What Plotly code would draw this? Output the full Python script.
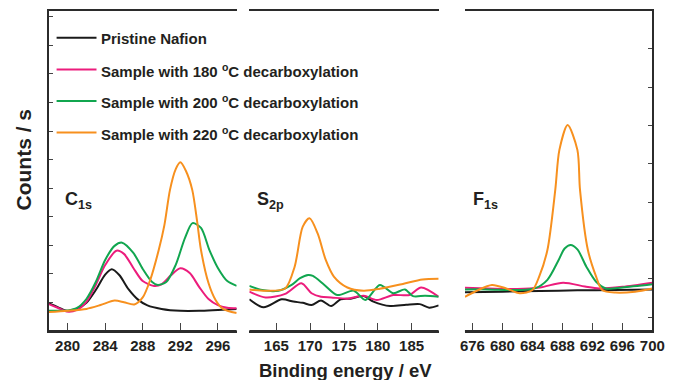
import plotly.graph_objects as go

# ---------------- data ----------------
series_names = [
    "Pristine Nafion",
    "Sample with 180 <sup>o</sup>C decarboxylation",
    "Sample with 200 <sup>o</sup>C decarboxylation",
    "Sample with 220 <sup>o</sup>C decarboxylation",
]
series_colors = ["#1a1a1a", "#ec1c7c", "#11a64f", "#f7901e"]
panel_labels = ["C<sub>1s</sub>", "S<sub>2p</sub>", "F<sub>1s</sub>"]

# C1s panel
c_black_x = [278, 279, 279.9, 281, 282, 283, 284, 284.7, 285.5, 286.5, 287.5, 288.5, 290, 292, 294, 296, 298]
c_black_y = [8.7, 7.4, 6.3, 6.9, 8.8, 12.8, 17.6, 19.3, 17.5, 13.0, 9.8, 8.0, 6.9, 6.3, 6.3, 6.6, 6.9]
c_pink_x = [278, 279, 279.9, 281, 282, 283, 284, 285.2, 286, 287, 288, 289.2, 290, 291, 292, 293, 294, 295, 296, 297, 298]
c_pink_y = [8.4, 7.2, 6.1, 6.6, 9.1, 14.4, 20.6, 25.1, 24.1, 19.7, 15.6, 14.1, 14.6, 17.4, 19.6, 18.1, 13.8, 10.0, 8.1, 7.3, 7.1]
c_green_x = [278, 279, 280, 281, 282, 283, 284, 285, 285.8, 287, 288, 289, 289.6, 290.5, 291.5, 292.5, 293.3, 294.2, 295.1, 296, 297, 298]
c_green_y = [6.3, 6.3, 6.4, 7.2, 10.0, 15.3, 22.2, 26.6, 27.6, 24.4, 19.4, 15.3, 14.4, 15.3, 20.6, 29.1, 33.7, 32.2, 25.3, 19.7, 15.6, 14.1]
c_orange_x = [278, 280, 282, 283.5, 285, 286, 287.1, 288, 288.8, 289.7, 290.3, 290.9, 291.5, 292, 292.6, 293.27, 293.8, 294.2, 295, 295.75, 296.5, 298]
c_orange_y = [5.9, 6.3, 6.9, 8.1, 9.5, 9.0, 8.3, 10.5, 16.0, 25.3, 33.0, 44.1, 50.5, 52.7, 50.0, 44.1, 34.0, 25.3, 15.0, 9.7, 7.0, 5.6]

# S2p panel
s_black_x = [161, 163.1, 165.8, 167.5, 168.9, 170.2, 171.6, 173.1, 174.5, 176, 177.9, 179.35, 181.8, 184.2, 186.2, 187.6, 189]
s_black_y = [9.9, 7.4, 9.9, 9.2, 8.8, 8.1, 9.5, 7.8, 9.9, 10.1, 10.9, 9.2, 7.8, 8.2, 8.4, 7.3, 8.0]
s_pink_x = [161, 163.4, 166.3, 168.7, 170.2, 171.6, 173.1, 175.5, 177.9, 179.85, 182.3, 184.7, 186.4, 189]
s_pink_y = [12.3, 10.5, 11.6, 14.9, 11.8, 10.7, 10.5, 10.1, 11.0, 9.7, 11.25, 11.25, 13.6, 10.7]
s_green_x = [161, 162.9, 165.3, 167.25, 168.5, 169.7, 170.4, 172.1, 174.0, 176.45, 178.15, 180.3, 182.3, 184.0, 185.2, 187, 189]
s_green_y = [14.1, 12.8, 12.6, 14.4, 16.5, 17.5, 17.2, 14.4, 11.25, 12.6, 9.7, 14.4, 11.8, 13.0, 10.9, 11.0, 10.7]
s_orange_x = [161, 163.4, 166.3, 167.7, 168.9, 169.9, 171.1, 172.3, 173.5, 175.5, 177.9, 180.3, 183.7, 186.6, 189]
s_orange_y = [13.0, 12.6, 13.3, 20.1, 32.6, 35.2, 30.5, 22.2, 17.0, 13.6, 12.6, 13.2, 14.7, 16.1, 16.3]

# F1s panel
f_black_x = [675, 680, 685, 690, 695, 700]
f_black_y = [12.1, 12.3, 12.5, 12.7, 12.8, 13.0]
f_pink_x = [675, 678, 682, 685, 688.1, 691, 692.9, 696, 700]
f_pink_y = [13.5, 13.3, 13.1, 13.6, 15.1, 13.9, 13.3, 13.8, 15.1]
f_green_x = [675, 678, 682.3, 684.4, 686.0, 687.5, 688.3, 689.1, 690.0, 691.2, 692.5, 693.8, 696, 700]
f_green_y = [13.0, 13.0, 12.8, 13.4, 16.0, 22.2, 25.8, 26.9, 25.5, 20.1, 15.4, 13.3, 13.6, 14.6]
f_orange_x = [675, 676.5, 678.6, 680.5, 682.3, 684.0, 684.9, 686.0, 687.05, 687.6, 688.7, 690.0, 690.35, 691.4, 692.5, 693.3, 695.1, 697.7, 700]
f_orange_y = [10.7, 12.5, 14.4, 13.3, 11.8, 12.8, 17.0, 25.3, 44.1, 56.6, 64.4, 56.6, 44.1, 25.3, 17.0, 12.8, 12.0, 12.3, 13.3]

c_ticks = [280, 284, 288, 292, 296]
s_ticks = [165, 170, 175, 180, 185]
f_ticks = [676, 680, 684, 688, 692, 696, 700]
x_ranges = [[278, 298], [161, 189], [675, 700]]

# ---------------- layout helpers ----------------
W, H = 678, 380
def fx(p):
    return p / W
def fy(p):
    return (H - p) / H

TOP, BOT = 11, 331
dom = [[45, 238], [251, 445.5], [472.5, 665]]
AX = "#2b2b2b"
TXT = "#231f20"
FONT = "Liberation Sans"

fig = go.Figure()

panels = [
    ("x", "y", [(c_black_x, c_black_y), (c_pink_x, c_pink_y), (c_green_x, c_green_y), (c_orange_x, c_orange_y)]),
    ("x2", "y", [(s_black_x, s_black_y), (s_pink_x, s_pink_y), (s_green_x, s_green_y), (s_orange_x, s_orange_y)]),
    ("x3", "y2", [(f_black_x, f_black_y), (f_pink_x, f_pink_y), (f_green_x, f_green_y), (f_orange_x, f_orange_y)]),
]
for xa, ya, sers in panels:
    for i, (xs, ys) in enumerate(sers):
        fig.add_trace(go.Scatter(
            x=xs, y=ys, xaxis=xa, yaxis=ya, mode="lines",
            line=dict(color=series_colors[i], width=2, shape="spline", smoothing=0.8),
            showlegend=False, hoverinfo="skip"))

tickfont = dict(family=FONT, size=15, color=TXT, weight="bold")

def bottom_axis(d, rng, ticks, anchor):
    step = ticks[1] - ticks[0]
    return dict(
        domain=[fx(d[0]), fx(d[1])], range=rng, anchor=anchor,
        tickmode="linear", tick0=ticks[0], dtick=step,
        ticks="inside", ticklen=8,
        showline=True, linewidth=2, linecolor=AX, mirror=True,
        showgrid=False, zeroline=False, tickfont=tickfont,
    )

fig.update_layout(
    width=W, height=H,
    margin=dict(l=0, r=0, t=0, b=0),
    paper_bgcolor="white", plot_bgcolor="white",
    showlegend=False,
    xaxis=bottom_axis(dom[0], x_ranges[0], c_ticks, "y"),
    xaxis2=bottom_axis(dom[1], x_ranges[1], s_ticks, "y"),
    xaxis3=bottom_axis(dom[2], x_ranges[2], f_ticks, "y2"),
    yaxis=dict(
        domain=[fy(BOT), fy(TOP)], range=[0, 100], anchor="x",
        tickmode="linear", tick0=0, dtick=100 / 11.2,
        ticks="inside", ticklen=4,
        showticklabels=False, showline=True, linewidth=2, linecolor=AX,
        showgrid=False, zeroline=False,
    ),
    yaxis2=dict(
        domain=[fy(BOT), fy(TOP)], range=[0, 100], anchor="x3", side="right",
        tickmode="linear", tick0=4.28, dtick=11.98,
        ticks="inside", ticklen=4,
        showticklabels=False, showline=True, linewidth=2, linecolor=AX,
        showgrid=False, zeroline=False,
    ),
)

# baselines under each panel (paper coordinates, not clipped)
for d in dom:
    fig.add_shape(type="line", xref="paper", yref="paper",
                  x0=fx(d[0]), x1=fx(d[1]), y0=fy(BOT), y1=fy(BOT),
                  line=dict(color=AX, width=2), layer="above")

# legend (drawn manually)
leg_rows = [37.7, 69.5, 101, 132.5]
for i, name in enumerate(series_names):
    fig.add_shape(type="line", xref="paper", yref="paper",
                  x0=fx(53), x1=fx(94), y0=fy(leg_rows[i]), y1=fy(leg_rows[i]),
                  line=dict(color=series_colors[i], width=2))
    fig.add_annotation(xref="paper", yref="paper", x=fx(97), y=fy(leg_rows[i] + 1),
                       text="<b>" + name + "</b>", showarrow=False,
                       xanchor="left", yanchor="middle",
                       font=dict(family=FONT, size=15, color=TXT))

# panel labels
lab_pos = [(60, 200), (257, 200), (479, 200)]
for (lx, ly), lab in zip(lab_pos, panel_labels):
    fig.add_annotation(xref="paper", yref="paper", x=fx(lx), y=fy(ly),
                       text="<b>" + lab + "</b>", showarrow=False,
                       xanchor="left", yanchor="middle",
                       font=dict(family=FONT, size=18, color=TXT))

# axis titles
fig.add_annotation(xref="paper", yref="paper", x=fx(350), y=fy(370),
                   text="<b>Binding energy / eV</b>", showarrow=False,
                   xanchor="center", yanchor="middle",
                   font=dict(family=FONT, size=18.5, color=TXT))
fig.add_annotation(xref="paper", yref="paper", x=fx(19), y=fy(159),
                   text="<b>Counts / s</b>", showarrow=False, textangle=-90,
                   xanchor="center", yanchor="middle",
                   font=dict(family=FONT, size=21, color=TXT))

fig.write_html("out.html", config={"displayModeBar": False},
               post_script="document.body.style.margin='0px';document.body.style.overflow='hidden';")
